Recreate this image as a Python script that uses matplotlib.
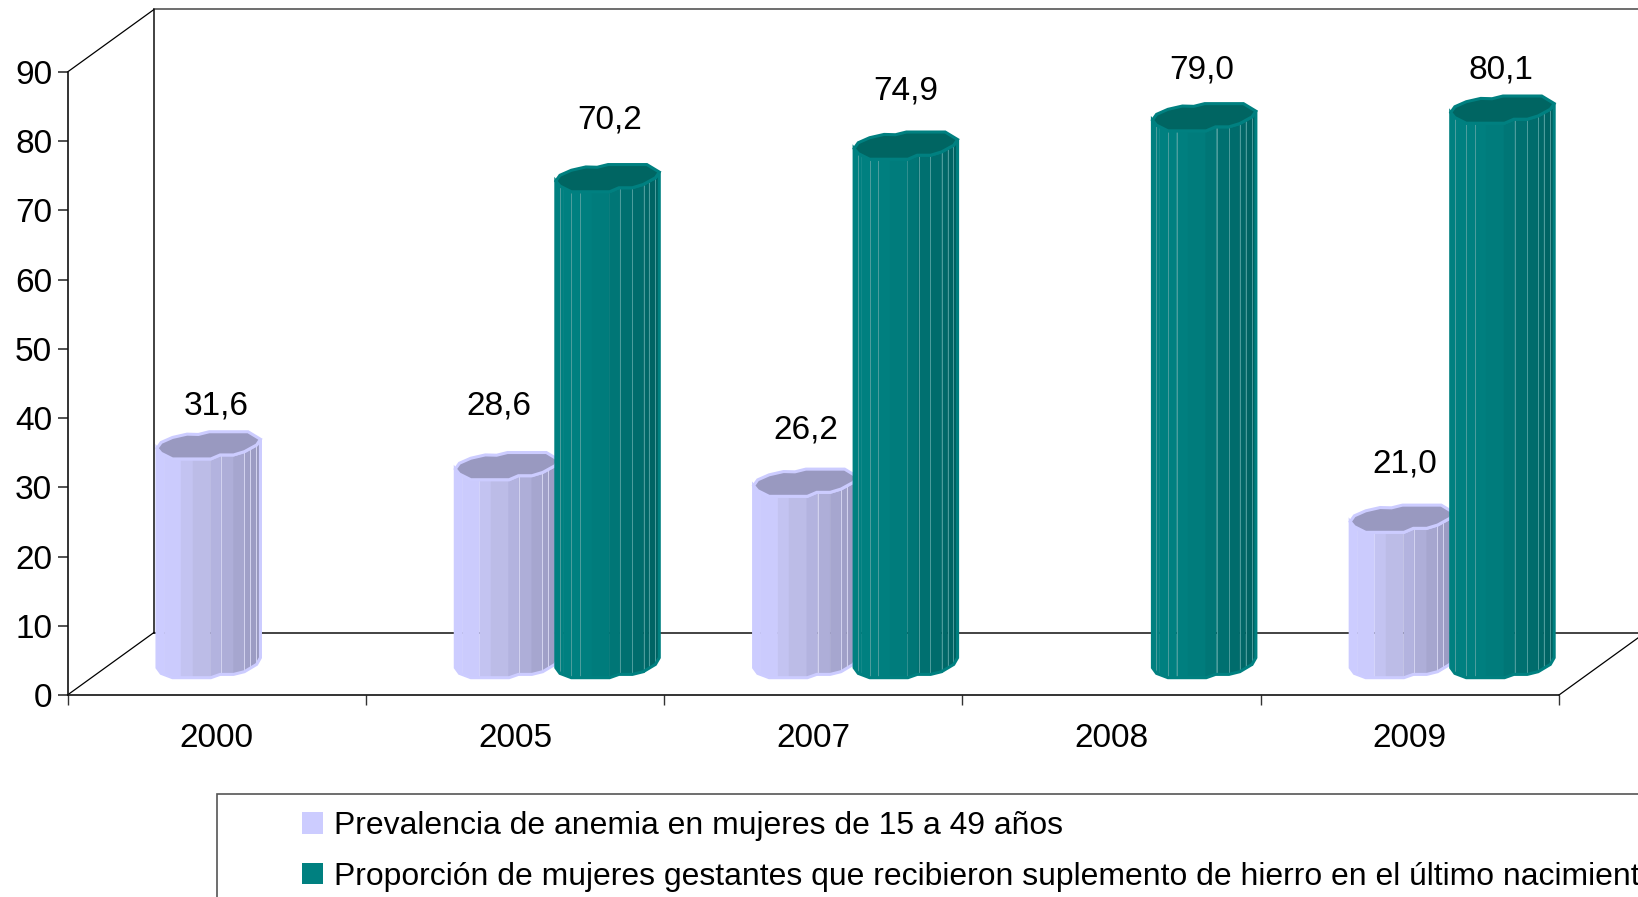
import numpy as np
import matplotlib
matplotlib.use('Agg')
import matplotlib.pyplot as plt
from matplotlib.patches import Polygon, Patch, Rectangle

plt.rcParams['font.family'] = ['Liberation Sans', 'DejaVu Sans']
plt.rcParams['font.size'] = 24

years = ['2000', '2005', '2007', '2008', '2009']
anemia = [31.6, 28.6, 26.2, None, 21.0]
hierro = [None, 70.2, 74.9, 79.0, 80.1]
legend_labels = ['Prevalencia de anemia en mujeres de 15 a 49 años',
                 'Proporción de mujeres gestantes que recibieron suplemento de hierro en el último nacimiento']

# label positions, set by hand as in the original chart (x inside category, y in axis units)
anemia_lab_x = [0.497, 0.446, 0.475, None, 0.482]
anemia_lab_y = [41.7, 41.7, 38.25, None, 33.4]
hierro_lab_x = [None, 0.818, 0.81, 0.803, 0.805]
hierro_lab_y = [None, 83.05, 87.25, 90.35, 90.25]

W, H = 1638, 897
px_y = 623 / 90       # pixels per axis unit
px_x = 298.4          # pixels per category
depth_x = 86.5 / px_x
depth_y = 62.5 / px_y

# outline of the wavy column, u across the bar, heights in pixels
u_front = np.array([0, .04, .15, .52, .61, .74, .845, .963, 1])
h_top = np.array([10.7, 5.7, 0, 0, 4, 4, 7.3, 14, 19.7]) / px_y
h_bot = np.array([10, 4.3, 0, 0, 3.3, 3.3, 6, 13.3, 20]) / px_y
u_back = np.array([1, .88, .505, .40, .29, .15, .04, 0])
h_back = np.array([19.7, 27.2, 27.2, 24.5, 24.8, 21.5, 16.5, 10.7]) / px_y

bar_w = 103.5 / px_x
base = 2.5
strips = [0, .07, .235, .345, .515, .62, .74, .845, .90, .963, 1]

lav = dict(edge='#CCCCFF', cap='#9999C0', line='#D4D4F0', lines=[.62, .84, .90, .96],
           strip=['#CCCCFF', '#CBCBFD', '#C3C3F1', '#BCBCE7', '#B3B3DF', '#AEAED8', '#A6A6CF', '#A0A0C8', '#9C9CC4',
                  '#9898BF'])
teal = dict(edge='#008080', cap='#006562', line='#4F9E9E', lines=[.037, .15, .233, .624, .736, .848, .904, .96],
            strip=['#008080', '#008080', '#007F7F', '#007C7C', '#007676', '#007070', '#006C6C', '#006868', '#006464',
                   '#006161'])


def draw_column(ax, x0, val, st):
    top = base + val
    uu = np.linspace(0, 1, 101)
    for k in range(len(strips) - 1):
        u = uu[(uu >= strips[k]) & (uu <= strips[k + 1])]
        u = np.r_[strips[k], u, strips[k + 1]]
        yt = top + np.interp(u, u_front, h_top)
        yb = base + np.interp(u, u_front, h_bot)
        xs = x0 + u * bar_w
        pts = np.r_[np.c_[xs, yb], np.c_[xs[::-1], yt[::-1]]]
        ax.add_patch(Polygon(pts, closed=True, fc=st['strip'][k], ec=st['strip'][k], lw=0.3, zorder=3,
                             clip_on=False))
    for u in st['lines']:
        ax.plot([x0 + u * bar_w] * 2,
                [base + np.interp(u, u_front, h_bot), top + np.interp(u, u_front, h_top)],
                color=st['line'], lw=0.7, zorder=3, clip_on=False)
    # outline of body
    pts = np.r_[np.c_[x0 + u_front * bar_w, base + h_bot],
                np.c_[x0 + u_front[::-1] * bar_w, top + h_top[::-1]]]
    ax.add_patch(Polygon(pts, closed=True, fc='none', ec=st['edge'], lw=2.2, zorder=3, clip_on=False))
    # cap
    pts = np.r_[np.c_[x0 + u_front * bar_w, top + h_top],
                np.c_[x0 + u_back * bar_w, top + h_back]]
    ax.add_patch(Polygon(pts, closed=True, fc=st['cap'], ec=st['edge'], lw=2.2, zorder=3, clip_on=False))


fig = plt.figure(figsize=(W / 100, H / 100), dpi=100)
ax = fig.add_axes([67.5 / W, 1 - 695 / H, 1491.5 / W, 623 / H])
ax.set_xlim(0, 5)
ax.set_ylim(0, 90)
for s in ['top', 'right']:
    ax.spines[s].set_visible(False)
for s in ['left', 'bottom']:
    ax.spines[s].set_linewidth(1.2)
    ax.spines[s].set_color('#111111')

ax.set_yticks(np.arange(0, 100, 10))
ax.set_xticks(np.arange(6))
ax.set_xticklabels([])
ax.set_xticks(np.arange(5) + 0.5, years, minor=True)
ax.tick_params(axis='y', length=7, width=1.2, pad=4, color='#333333')
ax.tick_params(axis='x', which='major', length=7, width=1, color='#333333')
ax.tick_params(axis='x', which='minor', length=0, pad=20)

# back walls
ax.plot([depth_x, depth_x], [depth_y, 90 + depth_y], color='#333333', lw=1.3, clip_on=False, zorder=1)
ax.plot([depth_x, 5 + depth_x], [90 + depth_y] * 2, color='#555555', lw=1.2, clip_on=False, zorder=1)
ax.plot([depth_x, 5 + depth_x], [depth_y, depth_y], color='#222222', lw=1.2, clip_on=False, zorder=1)
ax.plot([0, depth_x], [0, depth_y], color='k', lw=0.9, clip_on=False, zorder=1)
ax.plot([0, depth_x], [90, 90 + depth_y], color='k', lw=0.9, clip_on=False, zorder=1)
ax.plot([5, 5 + depth_x], [0, depth_y], color='k', lw=0.9, clip_on=False, zorder=1)

for i in range(len(years)):
    if anemia[i] is not None:
        draw_column(ax, i + 0.30, anemia[i], lav)
        ax.text(i + anemia_lab_x[i], anemia_lab_y[i], f'{anemia[i]:.1f}'.replace('.', ','),
                ha='center', va='center', zorder=5)
    if hierro[i] is not None:
        draw_column(ax, i + 0.637, hierro[i], teal)
        ax.text(i + hierro_lab_x[i], hierro_lab_y[i], f'{hierro[i]:.1f}'.replace('.', ','),
                ha='center', va='center', zorder=5)

# legend box runs off the page in the original
fig.add_artist(Rectangle((217 / W, -0.05), 1.0, 1 - 794 / H + 0.05, transform=fig.transFigure,
                         fc='white', ec='#555555', lw=1.2))
handles = [Patch(fc=lav['edge'], ec='none'), Patch(fc=teal['edge'], ec='none')]
leg = fig.legend(handles, legend_labels, loc='upper left', bbox_to_anchor=(302 / W, 1 - 811 / H),
                 bbox_transform=fig.transFigure, frameon=False, borderpad=0, borderaxespad=0, fontsize=22.95,
                 handlelength=0.66, handleheight=0.66, handletextpad=0.35, labelspacing=0.65)

plt.savefig('out.png', dpi=100)
